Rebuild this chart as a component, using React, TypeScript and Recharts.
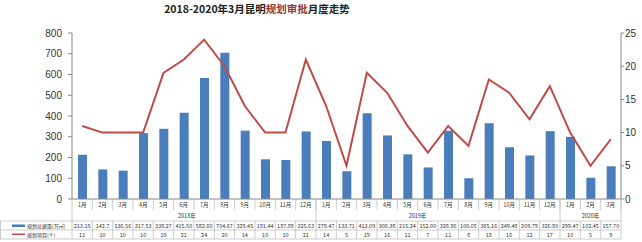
import { Bar, ComposedChart, Line, XAxis, YAxis } from "recharts";

const months = [
  "1月", "2月", "3月", "4月", "5月", "6月", "7月", "8月", "9月", "10月", "11月", "12月",
  "1月", "2月", "3月", "4月", "5月", "6月", "7月", "8月", "9月", "10月", "11月", "12月",
  "1月", "2月", "3月",
];
const areaValues = [
  213.15, 142.7, 136.56, 317.53, 338.27, 415.5, 582.6, 704.67, 329.45, 191.44, 187.88, 325.63,
  279.47, 133.71, 413.09, 306.38, 215.24, 152.0, 328.96, 100.05, 365.16, 249.48, 209.79, 326.8,
  299.47, 102.45, 157.7,
];
const areaLabels = [
  "213.15", "142.7", "136.56", "317.53", "338.27", "415.50", "582.60", "704.67", "329.45", "191.44", "187.88", "325.63",
  "279.47", "133.71", "413.09", "306.38", "215.24", "152.00", "328.96", "100.05", "365.16", "249.48", "209.79", "326.80",
  "299.47", "102.45", "157.70",
];
const projectCounts = [
  11, 10, 10, 10, 19, 21, 24, 20, 14, 10, 10, 21,
  14, 5, 19, 16, 11, 7, 11, 8, 18, 16, 12, 17,
  10, 5, 9,
];
const years = [
  { label: "2018年", at: 5, shift: 3 },
  { label: "2019年", at: 16, shift: 10 },
  { label: "2020年", at: 25, shift: 0 },
];
const yearBreaks = [12, 24];
const leftTicks = [0, 100, 200, 300, 400, 500, 600, 700, 800];
const rightTicks = [0, 5, 10, 15, 20, 25];

const data = months.map((m, i) => ({ key: i, month: m, area: areaValues[i], count: projectCounts[i] }));

const W = 642;
const H = 242;
const LEFT = 72;
const RIGHT = 21;
const TOP = 33;
const BOTTOM = 199;
const CELL = (W - LEFT - RIGHT) / months.length;
const BLUE = "#4a7ebb";
const RED = "#be4b48";
const GRID = "#bfbfbf";
const TXT = "#333";
const FONT = "'Noto Sans CJK SC', 'Liberation Sans', sans-serif";

const ROW_MONTH = BOTTOM + 11;
const ROW_YEAR = BOTTOM + 22;
const ROW_AREA = BOTTOM + 31;
const ROW_COUNT = BOTTOM + 40;

function TableTick(props: any) {
  const { x, payload } = props;
  const i = payload.index ?? payload.value;
  const l = x - CELL / 2;
  const r = x + CELL / 2;
  const year = years.find((y) => y.at === i);
  return (
    <g fontFamily={FONT} fill={TXT}>
      {i === 0 && (
        <g>
          <line x1={0} x2={W - RIGHT} y1={ROW_YEAR} y2={ROW_YEAR} stroke={GRID} strokeWidth={0.8} />
          <line x1={0} x2={W - RIGHT} y1={ROW_AREA} y2={ROW_AREA} stroke={GRID} strokeWidth={0.8} />
          <line x1={0} x2={W - RIGHT} y1={ROW_COUNT} y2={ROW_COUNT} stroke={GRID} strokeWidth={0.8} />
          <line x1={0.5} x2={0.5} y1={ROW_YEAR} y2={ROW_COUNT} stroke={GRID} strokeWidth={0.8} />
          <line x1={l} x2={l} y1={BOTTOM} y2={ROW_COUNT} stroke={GRID} strokeWidth={0.8} />
          <rect x={12} y={ROW_YEAR + 3.5} width={13} height={2.5} fill={BLUE} />
          <rect x={12} y={ROW_AREA + 3.5} width={13} height={1.5} fill={RED} />
          <text x={27} y={ROW_YEAR + 6.6} fontSize={5} fill={TXT}>规划总建面(万㎡)</text>
          <text x={27} y={ROW_AREA + 6.6} fontSize={5} fill={TXT}>规划项目(个)</text>
        </g>
      )}
      <line x1={r} x2={r} y1={BOTTOM} y2={ROW_MONTH} stroke={GRID} strokeWidth={0.8} />
      {(yearBreaks.includes(i + 1) || i === months.length - 1) && (
        <line x1={r} x2={r} y1={BOTTOM} y2={ROW_YEAR} stroke={GRID} strokeWidth={0.8} />
      )}
      <line x1={r} x2={r} y1={ROW_YEAR} y2={ROW_COUNT} stroke={GRID} strokeWidth={0.8} />
      <text x={x} y={BOTTOM + 8} fontSize={5.5} textAnchor="middle">{months[i]}</text>
      {year && (
        <text x={x + year.shift} y={ROW_MONTH + 8} fontSize={5.5} textAnchor="middle">{year.label}</text>
      )}
      <text x={x} y={ROW_YEAR + 6.8} fontSize={5.5} textAnchor="middle">{areaLabels[i]}</text>
      <text x={x} y={ROW_AREA + 6.8} fontSize={5.5} textAnchor="middle">{projectCounts[i]}</text>
    </g>
  );
}

export default function App() {
  return (
    <div style={{ position: "absolute", left: 0, top: 0, width: W, height: H, background: "#fff" }}>
      <div
        style={{
          position: "absolute",
          left: 0,
          top: 2,
          width: 514,
          textAlign: "center",
          fontFamily: FONT,
          fontWeight: 700,
          fontSize: 10.5,
          color: "#222",
          lineHeight: "14px",
        }}
      >
        2018-2020年3月昆明<span style={{ color: "#953735" }}>规划审批</span>月度走势
      </div>
      <ComposedChart
        width={W}
        height={H}
        data={data}
        margin={{ top: TOP, right: 0, bottom: 0, left: 0 }}
      >
        <XAxis
          dataKey="key"
          xAxisId={0}
          height={H - BOTTOM}
          axisLine={{ stroke: "#868686" }}
          tickLine={false}
          interval={0}
          tick={<TableTick />}
        />
        <YAxis
          yAxisId="left"
          width={LEFT}
          domain={[0, 800]}
          ticks={leftTicks}
          tickSize={4}
          tickMargin={6}
          axisLine={{ stroke: "#868686" }}
          tickLine={{ stroke: "#868686" }}
          tick={{ fontSize: 10, fill: TXT, fontFamily: "'Liberation Sans', sans-serif" }}
        />
        <YAxis
          yAxisId="right"
          orientation="right"
          width={RIGHT}
          domain={[0, 25]}
          ticks={rightTicks}
          tickSize={3}
          tickMargin={1}
          axisLine={{ stroke: "#868686" }}
          tickLine={{ stroke: "#868686" }}
          tick={{ fontSize: 10, fill: TXT, fontFamily: "'Liberation Sans', sans-serif" }}
        />
        <Bar yAxisId="left" dataKey="area" fill={BLUE} barSize={9} isAnimationActive={false} />
        <Line
          yAxisId="right"
          dataKey="count"
          type="linear"
          stroke={RED}
          strokeWidth={2}
          dot={false}
          activeDot={false}
          isAnimationActive={false}
        />
      </ComposedChart>
    </div>
  );
}
